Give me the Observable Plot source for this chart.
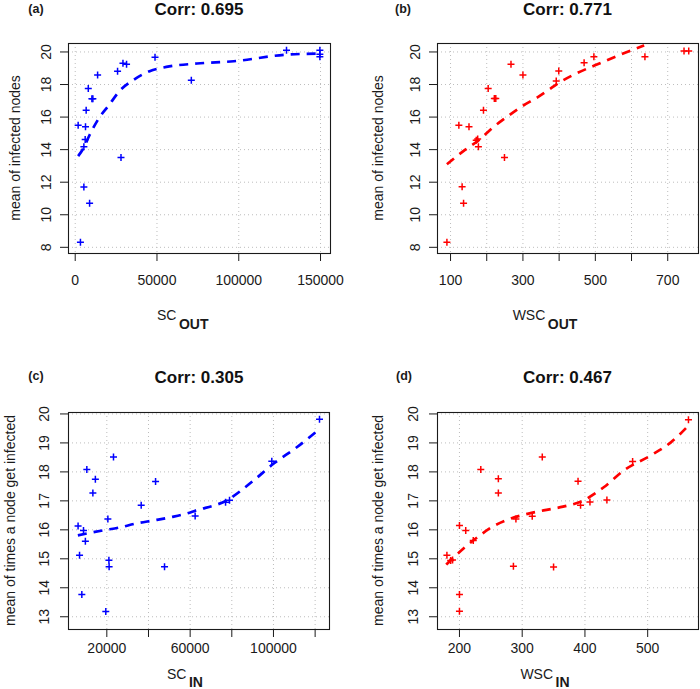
<!DOCTYPE html>
<html><head><meta charset="utf-8">
<script src="https://cdn.jsdelivr.net/npm/d3@7"></script>
<script src="https://cdn.jsdelivr.net/npm/@observablehq/plot@0.6"></script>
<style>
body{margin:0;background:#fff;}
#wrap{position:relative;width:700px;height:689px;overflow:hidden;background:#fff;}
.panel{position:absolute;}
svg{overflow:visible}
</style></head><body><div id="wrap"></div>
<script>
// ---- Panel (a): SC_OUT vs mean of infected nodes ----
const aX = [1800, 3200, 5300, 8800, 5300, 6100, 6300, 6700, 8000, 10200, 10800, 13700, 25900, 28000, 29200, 31400, 48800, 71000, 129200, 149600, 149600, 149600];
const aY = [15.5, 8.31, 11.7, 10.7, 14.17, 14.63, 15.4, 16.42, 17.75, 17.12, 17.12, 18.59, 18.82, 13.52, 19.31, 19.25, 19.67, 18.26, 20.1, 20.1, 19.86, 19.7];
const aLineX = [1800, 5100, 8800, 14300, 20600, 27100, 35300, 45500, 55700, 74500, 96900, 129600, 149000];
const aLineY = [13.6, 14.1, 14.9, 15.9, 16.73, 17.6, 18.26, 18.82, 19.08, 19.29, 19.43, 19.84, 19.9];
const aXTicks = [0, 50000, 100000, 150000];
const aYTicks = [8, 10, 12, 14, 16, 18, 20];

// ---- Panel (b): WSC_OUT vs mean of infected nodes ----
const bX = [90, 123, 151, 132, 136, 171, 175, 177, 191, 204, 221, 225, 249, 267, 300, 392, 399, 469, 496, 637, 745, 758];
const bY = [8.31, 15.5, 15.4, 11.72, 10.7, 14.58, 14.66, 14.17, 16.42, 17.75, 17.14, 17.14, 13.52, 19.25, 18.59, 18.22, 18.83, 19.33, 19.7, 19.7, 20.06, 20.06];
const bLineX = [90, 141, 178, 217, 258, 298, 339, 376, 392, 440, 499, 560, 635];
const bLineY = [13.1, 14.0, 14.58, 15.36, 16.05, 16.67, 17.2, 17.75, 18.0, 18.6, 19.18, 19.75, 20.4];
const bXTicks = [100, 200, 300, 400, 500, 600, 700];
const bXLabels = [100, 300, 500, 700];
const bYTicks = [8, 10, 12, 14, 16, 18, 20];

// ---- Panel (c): SC_IN vs mean of times a node get infected ----
const cX = [6200, 8800, 9700, 6900, 8000, 10400, 14500, 13300, 20500, 23200, 21000, 21100, 19500, 36500, 43400, 47700, 62400, 77000, 78900, 99200, 122100];
const cY = [16.13, 15.98, 15.61, 15.12, 13.77, 18.08, 17.75, 17.27, 16.37, 18.51, 14.95, 14.73, 13.18, 16.85, 17.67, 14.73, 16.48, 16.95, 17.02, 18.37, 19.82];
const cLineX = [6100, 18100, 26100, 34100, 42900, 50900, 58100, 62400, 77600, 90400, 100000, 111200, 122100];
const cLineY = [15.81, 15.98, 16.08, 16.22, 16.33, 16.44, 16.56, 16.66, 17.02, 17.7, 18.28, 18.85, 19.48];
const cXTicks = [20000, 40000, 60000, 80000, 100000, 120000];
const cXLabels = [20000, 60000, 100000];
const cYTicks = [13, 14, 15, 16, 17, 18, 19, 20];

// ---- Panel (d): WSC_IN vs mean of times a node get infected ----
const dX = [180, 186, 189, 200, 210, 222, 234, 262, 262, 200, 200, 286, 290, 316, 332, 389, 393, 408, 435, 476, 565, 350];
const dY = [15.12, 14.94, 14.96, 16.15, 15.98, 15.63, 18.08, 17.76, 17.27, 13.77, 13.19, 14.74, 16.37, 16.47, 18.51, 17.68, 16.85, 16.96, 17.03, 18.36, 19.8, 14.72];
const dLineX = [179, 206, 229, 252, 278, 310, 334, 365, 393, 430, 462, 505, 537, 565];
const dLineY = [14.8, 15.35, 15.75, 16.1, 16.36, 16.56, 16.67, 16.8, 16.97, 17.47, 18.05, 18.57, 19.02, 19.6];
const dXTicks = [200, 300, 400, 500];
const dYTicks = [13, 14, 15, 16, 17, 18, 19, 20];

const BLUE = "#0000ff", RED = "#ff0000";
const FONT = "'Liberation Sans', Arial, Helvetica, sans-serif";

const plusSymbol = {
  draw(ctx, size) {
    const r = Math.sqrt(size / Math.PI);
    ctx.moveTo(-r, 0); ctx.lineTo(r, 0);
    ctx.moveTo(0, -r); ctx.lineTo(0, r);
  }
};

function makePanel(o) {
  const pts = o.xs.map((x, i) => ({x, y: o.ys[i]}));
  const line = o.lx.map((x, i) => ({x, y: o.ly[i]}));
  const labelled = o.xLabels || o.xTicks;
  const svgEl = Plot.plot({
    width: 350, height: o.height,
    marginLeft: o.ml, marginRight: o.mr, marginTop: o.mt, marginBottom: o.mb,
    x: {domain: o.xDomain}, y: {domain: o.yDomain},
    style: {fontFamily: FONT, fontSize: "14px", color: "#1a1a1a", background: "transparent"},
    marks: [
      Plot.gridX(o.xTicks, {stroke: "#bdbdbd", strokeOpacity: 1, strokeDasharray: "1,3"}),
      Plot.gridY(o.yTicks, {stroke: "#bdbdbd", strokeOpacity: 1, strokeDasharray: "1,3"}),
      Plot.axisX(o.xTicks, {tickSize: 8, tickPadding: o.xPad, label: null,
        tickFormat: d => labelled.includes(d) ? String(d) : ""}),
      Plot.axisY(o.yTicks, {tickSize: 8, label: null, tickFormat: () => ""}),
      Plot.text(o.yTicks, {y: d => d, text: d => String(d), frameAnchor: "left", dx: o.yLabDx,
        rotate: -90, textAnchor: "middle", lineAnchor: "middle", fill: "#1a1a1a", fontSize: 14}),
      Plot.line(line, {x: "x", y: "y", stroke: o.color, strokeWidth: 2.7,
        strokeDasharray: "9,7", strokeLinecap: "butt", curve: "monotone-x", clip: true}),
      Plot.dot(pts, {x: "x", y: "y", symbol: plusSymbol, r: 3.5, stroke: o.color,
        fill: "none", strokeWidth: 1.5}),
      Plot.frame({stroke: "#1a1a1a", strokeWidth: 1.1})
    ]
  });
  const svg = d3.select(svgEl);
  svg.append("text").attr("x", o.tagX).attr("y", o.tagY)
    .attr("font-family", FONT).attr("font-size", 12.5).attr("font-weight", "bold")
    .attr("fill", "#1a1a1a").text(o.tag);
  svg.append("text").attr("x", o.titleX).attr("y", o.titleY)
    .attr("text-anchor", "middle").attr("font-family", FONT).attr("font-size", 17)
    .attr("font-weight", "bold").attr("fill", "#111").text(o.title);
  svg.append("text").attr("transform", `translate(${o.ylx},${o.yly}) rotate(-90)`)
    .attr("dy", "0.35em").attr("text-anchor", "middle").attr("font-family", FONT)
    .attr("font-size", 14).attr("fill", "#1a1a1a").text(o.yLabel);
  const t = svg.append("text").attr("x", o.xlx).attr("y", o.xly)
    .attr("font-family", FONT).attr("font-size", 14).attr("fill", "#1a1a1a");
  t.append("tspan").text(o.xMain);
  t.append("tspan").attr("dx", 2.5).attr("dy", o.subDy).attr("font-weight", "bold").text(o.xSub);

  const div = document.createElement("div");
  div.className = "panel";
  div.style.left = o.left + "px";
  div.style.top = o.top + "px";
  div.appendChild(svgEl);
  document.getElementById("wrap").appendChild(div);
}

const topCommon = {top: 0, height: 335, mt: 43, mb: 82, yDomain: [7.62, 20.52], xPad: 14, yLabDx: -22,
  titleY: 15, tagY: 12.5, yLabel: "mean of infected nodes", yly: 148, xly: 320, subDy: 9, xSub: "OUT"};
const botCommon = {top: 335, height: 354, mt: 77, mb: 60, yDomain: [12.56, 20.05], xPad: 6, yLabDx: -24,
  titleY: 48.3, tagY: 44.5, yLabel: "mean of times a node get infected", yly: 185.5, xly: 344, subDy: 8, xSub: "IN"};

makePanel({...topCommon, left: 0, ml: 68, mr: 20, xDomain: [-4100, 156100],
  xTicks: aXTicks, yTicks: aYTicks, xs: aX, ys: aY, lx: aLineX, ly: aLineY, color: BLUE,
  tag: "(a)", tagX: 36, title: "Corr: 0.695", titleX: 199, ylx: 15, xlx: 182.7, xMain: "SC"});
makePanel({...topCommon, left: 350, ml: 87, mr: 2, xDomain: [64, 785],
  xTicks: bXTicks, xLabels: bXLabels, yTicks: bYTicks, xs: bX, ys: bY, lx: bLineX, ly: bLineY, color: RED,
  tag: "(b)", tagX: 53, title: "Corr: 0.771", titleX: 217.5, ylx: 28.3, xlx: 195, xMain: "WSC"});
makePanel({...botCommon, left: 0, ml: 68, mr: 21, xDomain: [1600, 126900],
  xTicks: cXTicks, xLabels: cXLabels, yTicks: cYTicks, xs: cX, ys: cY, lx: cLineX, ly: cLineY, color: BLUE,
  tag: "(c)", tagX: 36, title: "Corr: 0.305", titleX: 199, ylx: 10, xlx: 185, xMain: "SC"});
makePanel({...botCommon, left: 350, ml: 87, mr: 2, xDomain: [165, 581],
  xTicks: dXTicks, yTicks: dYTicks, xs: dX, ys: dY, lx: dLineX, ly: dLineY, color: RED,
  tag: "(d)", tagX: 54, title: "Corr: 0.467", titleX: 217.5, ylx: 28.3, xlx: 195, xMain: "WSC"});
</script></body></html>
